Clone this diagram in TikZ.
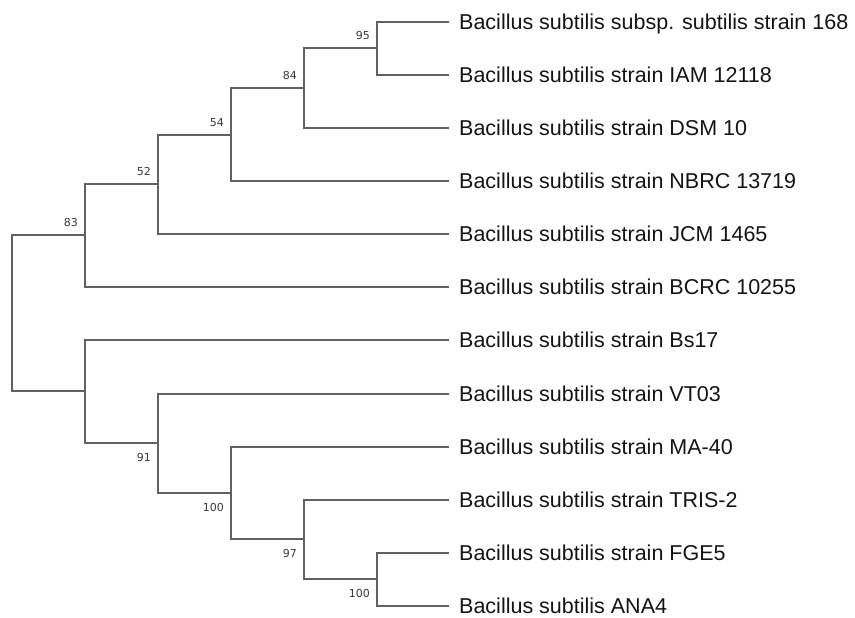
\documentclass[tikz,border=0pt]{standalone}
\usepackage{fontspec}
\setmainfont{Liberation Sans}
\newfontfamily\bsfont{DejaVu Sans}
\begin{document}
\begin{tikzpicture}[x=1pt,y=-1pt,
  branch/.style={draw=black!62,line width=2pt,line join=miter},
  leaf/.style={anchor=west,inner xsep=10pt,inner ysep=0pt,text height=15.4pt,text depth=0pt,
    font=\fontsize{21.5}{24}\selectfont,text=black!92},
  bs/.style={inner sep=0pt,font=\bsfont\fontsize{11}{13}\selectfont,text=black!78}]
\useasboundingbox (0,0) rectangle (855,618);

% leaves: text nodes whose west anchor is the branch tip
\node[leaf] (t0)  at (449, 22)  {Bacillus subtilis subsp. subtilis strain 168};
\node[leaf] (t1)  at (449, 75)  {Bacillus subtilis strain IAM 12118};
\node[leaf] (t2)  at (449,128)  {Bacillus subtilis strain DSM 10};
\node[leaf] (t3)  at (449,181)  {Bacillus subtilis strain NBRC 13719};
\node[leaf] (t4)  at (449,234)  {Bacillus subtilis strain JCM 1465};
\node[leaf] (t5)  at (449,287)  {Bacillus subtilis strain BCRC 10255};
\node[leaf] (t6)  at (449,340)  {Bacillus subtilis strain Bs17};
\node[leaf] (t7)  at (449,394)  {Bacillus subtilis strain VT03};
\node[leaf] (t8)  at (449,447)  {Bacillus subtilis strain MA-40};
\node[leaf] (t9)  at (449,500)  {Bacillus subtilis strain TRIS-2};
\node[leaf] (t10) at (449,553)  {Bacillus subtilis strain FGE5};
\node[leaf] (t11) at (449,606)  {Bacillus subtilis ANA4};

% internal nodes
\coordinate (n95)  at (377, 48);
\coordinate (n84)  at (304, 88);
\coordinate (n54)  at (231,135);
\coordinate (n52)  at (158,184);
\coordinate (n83)  at ( 85,235);
\coordinate (nA)   at (377,579);
\coordinate (n97)  at (304,539);
\coordinate (n100) at (231,493);
\coordinate (n91)  at (158,443);
\coordinate (nB)   at ( 85,391);
\coordinate (root) at ( 12,313);

% branches: each bracket runs from its upper child, down through the node, to its lower child
\draw[branch] (t0.west) -| (n95) |- (t1.west);
\draw[branch] (n95) -| (n84) |- (t2.west);
\draw[branch] (n84) -| (n54) |- (t3.west);
\draw[branch] (n54) -| (n52) |- (t4.west);
\draw[branch] (n52) -| (n83) |- (t5.west);
\draw[branch] (t10.west) -| (nA) |- (t11.west);
\draw[branch] (t9.west) -| (n97) |- (nA);
\draw[branch] (t8.west) -| (n100) |- (n97);
\draw[branch] (t7.west) -| (n91) |- (n100);
\draw[branch] (t6.west) -| (nB) |- (n91);
\draw[branch] (n83) -| (root) |- (nB);

% bootstrap values
\node[bs,anchor=east] (b95)  at ([xshift=-7pt,yshift=12.5pt]n95) {95};
\node[bs,anchor=east] (b84)  at ([xshift=-7pt,yshift=12.5pt]n84) {84};
\node[bs,anchor=east] (b54)  at ([xshift=-7pt,yshift=12.5pt]n54) {54};
\node[bs,anchor=east] (b52)  at ([xshift=-7pt,yshift=12.5pt]n52) {52};
\node[bs,anchor=east] (b83)  at ([xshift=-7pt,yshift=12.5pt]n83) {83};
\node[bs,anchor=east] (b91)  at ([xshift=-7pt,yshift=-14pt]n91) {91};
\node[bs,anchor=east] (b100) at ([xshift=-7pt,yshift=-14pt]n100) {100};
\node[bs,anchor=east] (b97)  at ([xshift=-7pt,yshift=-14pt]n97) {97};
\node[bs,anchor=east] (bA)   at ([xshift=-7pt,yshift=-14pt]nA) {100};
\end{tikzpicture}
\end{document}
